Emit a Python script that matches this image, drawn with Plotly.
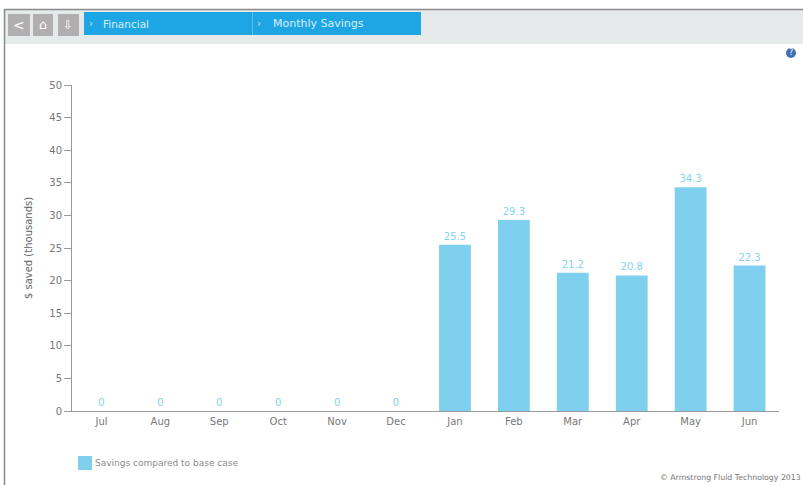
import plotly.graph_objects as go

months = ["Jul", "Aug", "Sep", "Oct", "Nov", "Dec", "Jan", "Feb", "Mar", "Apr", "May", "Jun"]
savings = [0, 0, 0, 0, 0, 0, 25.5, 29.3, 21.2, 20.8, 34.3, 22.3]
series_name = "Savings compared to base case"
y_ticks = [0, 5, 10, 15, 20, 25, 30, 35, 40, 45, 50]
y_title = "$ saved (thousands)"
crumbs = ["Financial", "Monthly Savings"]
copyright_text = "© Armstrong Fluid Technology 2013"

W, H = 803, 485
L, R, T, B = 72, 779, 85, 411
FONT = "DejaVu Sans"


def px(x):
    return (x - L) / (R - L)


def py(y):
    return (B - y) / (B - T)


def rect(x0, y0, x1, y1, fill, line=None, layer="above"):
    return dict(type="rect", xref="paper", yref="paper", x0=px(x0), x1=px(x1), y0=py(y1), y1=py(y0),
                fillcolor=fill, line=dict(width=1 if line else 0, color=line or fill), layer=layer)


def text(x, y, s, size=10, color="#777", anchor="left"):
    return dict(xref="paper", yref="paper", x=px(x), y=py(y), text=s, showarrow=False,
                xanchor=anchor, yanchor="middle", font=dict(family=FONT, size=size, color=color))


shapes = [
    rect(4, 10, W + 2, 44, "#e6eaea"),
    dict(type="line", xref="paper", yref="paper", x0=px(4), x1=px(W), y0=py(9.5), y1=py(9.5),
         line=dict(color="#8a8a8a", width=1.5)),
    dict(type="line", xref="paper", yref="paper", x0=px(4.5), x1=px(4.5), y0=py(9.5), y1=py(H),
         line=dict(color="#8a8a8a", width=1.5)),
    rect(8, 14, 30, 36, "#b0aeae"),
    rect(33, 14, 53, 36, "#b0aeae"),
    rect(58, 14, 79, 36, "#b0aeae"),
    rect(84, 12, 421, 35, "#1ea5e4"),
    dict(type="line", xref="paper", yref="paper", x0=px(252.5), x1=px(252.5), y0=py(12), y1=py(35),
         line=dict(color="#5cbdec", width=1)),
    dict(type="circle", xref="paper", yref="paper", x0=px(786), x1=px(796), y0=py(58), y1=py(48),
         fillcolor="#3f6fb5", line=dict(width=0)),
    rect(78, 456, 92, 470, "#7fd0ef"),
]

annotations = [
    text(19, 24.5, "<", 14, "#ffffff", "center"),
    text(43, 24.5, "⌂", 13, "#ffffff", "center"),
    text(68, 24.5, "⇩", 12, "#ffffff", "center"),
    text(91, 24, "›", 10, "#cfeafa", "center"),
    text(101, 24, crumbs[0], 10.5, "#d8f0fc"),
    text(259, 24, "›", 10, "#cfeafa", "center"),
    text(271, 24, crumbs[1], 11, "#d8f0fc"),
    text(791, 53, "?", 8, "#ffffff", "center"),
    text(93, 463, series_name, 9, "#8c8c8c"),
    text(658, 477.5, copyright_text, 7.8, "#777"),
]

fig = go.Figure(go.Bar(
    x=months, y=savings, name=series_name, width=0.54,
    marker=dict(color="#7fd0ef", line=dict(width=0)),
    text=[str(v) for v in savings], textposition="outside", cliponaxis=False,
    textfont=dict(family=FONT, size=10, color="#85d3f0"),
    showlegend=False,
))

fig.update_layout(
    width=W, height=H, margin=dict(l=L, r=W - R, t=T, b=H - B, pad=0, autoexpand=False),
    paper_bgcolor="white", plot_bgcolor="white", shapes=shapes, annotations=annotations,
    font=dict(family=FONT, size=10, color="#777"),
    xaxis=dict(type="category", categoryorder="array", categoryarray=months, showgrid=False,
               showline=True, linecolor="#999", linewidth=1, ticks="", tickfont=dict(size=10, color="#777"),
               ticklabelstandoff=1),
    yaxis=dict(range=[0, 50], tickvals=y_ticks, showgrid=False, zeroline=False, showline=True,
               linecolor="#999", linewidth=1, ticks="outside", ticklen=7, tickcolor="#999",
               tickfont=dict(size=10, color="#777"),
               title=dict(text=y_title, font=dict(size=10, color="#666"), standoff=14)),
)

fig.write_html("out.html", config=dict(displayModeBar=False),
               post_script="document.body.style.margin='0';document.body.style.overflow='hidden';")
